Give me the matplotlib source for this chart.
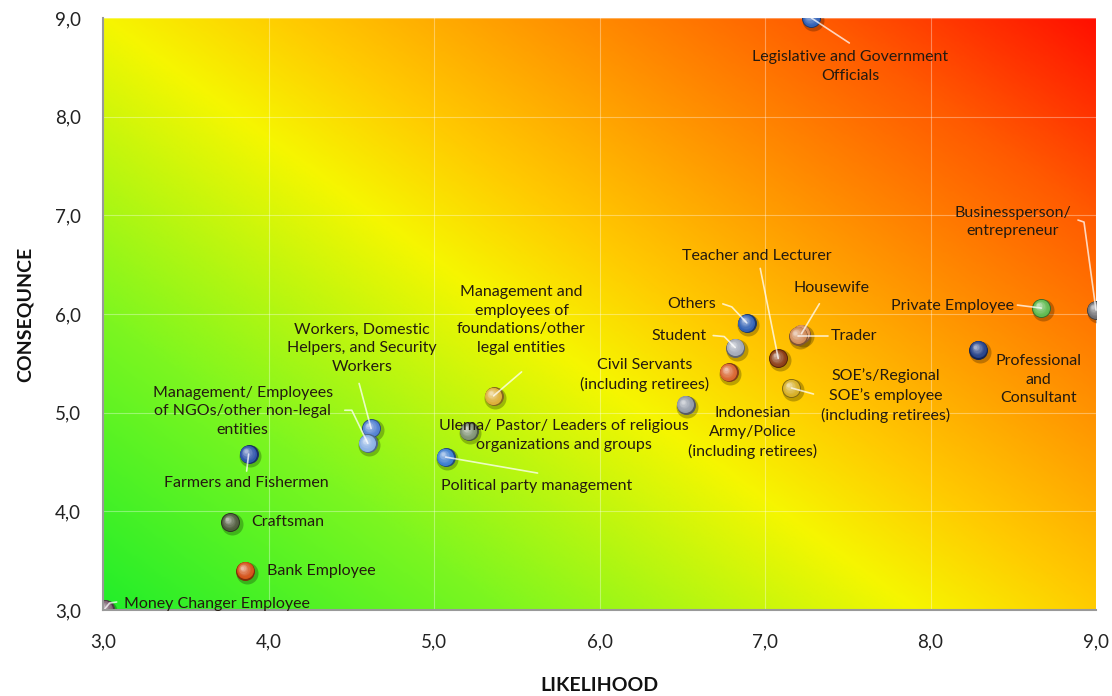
import numpy as np
import matplotlib
matplotlib.use("Agg")
import matplotlib.pyplot as plt
from matplotlib.colors import LinearSegmentedColormap, to_rgb
from matplotlib.transforms import offset_copy

plt.rcParams['font.family'] = ['Lato', 'DejaVu Sans']

# ---- data ----
labels = [
    "Legislative and Government\nOfficials",
    "Businessperson/\nentrepreneur",
    "Private Employee",
    "Professional\nand\nConsultant",
    "Others",
    "Student",
    "Housewife",
    "Trader",
    "Teacher and Lecturer",
    "Civil Servants\n(including retirees)",
    "SOE\u2019s/Regional\nSOE\u2019s employee\n(including retirees)",
    "Indonesian\nArmy/Police\n(including retirees)",
    "Management and\nemployees of\nfoundations/other\nlegal entities",
    "Ulema/ Pastor/ Leaders of religious\norganizations and groups",
    "Political party management",
    "Workers, Domestic\nHelpers, and Security\nWorkers",
    "Management/ Employees\nof NGOs/other non-legal\nentities",
    "Farmers and Fishermen",
    "Craftsman",
    "Bank Employee",
    "Money Changer Employee",
]
likelihood = [7.28, 9.00, 8.67, 8.29, 6.89, 6.82, 7.22, 7.20, 7.08, 6.78, 7.16,
              6.52, 5.36, 5.21, 5.07, 4.62, 4.60, 3.88, 3.77, 3.86, 3.01]
consequence = [9.00, 6.04, 6.06, 5.64, 5.91, 5.66, 5.80, 5.78, 5.55, 5.41, 5.25,
               5.08, 5.17, 4.81, 4.55, 4.84, 4.69, 4.58, 3.89, 3.40, 3.01]
x_ticks = [3.0, 4.0, 5.0, 6.0, 7.0, 8.0, 9.0]
y_ticks = [3.0, 4.0, 5.0, 6.0, 7.0, 8.0, 9.0]

# ---- styles ----
colors = ["#2f5fb5", "#6e6e72", "#5cb84c", "#1f3c85", "#2c5db3", "#a2a8b6",
          "#d8925e", "#d08a58", "#8a3a12", "#d8622a", "#d6ae22", "#9098a6",
          "#dcae34", "#7b8f6e", "#3a7cd0", "#4f7fd0", "#86aee4", "#2a50a8",
          "#4a5638", "#d24c12", "#7a6070"]

# label placement: (dx, dy) offset pixels, ha, va, leader path (pixel offsets from point) or None
label_pos = [
    (39, -32, 'center', 'top', [(0, 0), (38, -25)]),
    (-83, 88, 'center', 'center', [(0, 0), (-12, 88), (-18, 90)]),
    (-27, 2, 'right', 'center', [(0, 0), (-24, 3)]),
    (60, -30, 'center', 'center', None),
    (-55, 19, 'center', 'center', [(0, 0), (-15, 16), (-24, 19)]),
    (-56, 12, 'center', 'center', [(0, 0), (-11, 11), (-22, 12)]),
    (30, 46, 'center', 'center', [(0, 0), (18, 30)]),
    (33, 0, 'left', 'center', [(0, 0), (30, 0)]),
    (-21, 102, 'center', 'center', [(0, 0), (-18, 90)]),
    (-84, -3, 'center', 'center', None),
    (94, -8, 'center', 'center', [(0, 0), (22, -6)]),
    (67, -28, 'center', 'center', None),
    (28, 76, 'center', 'center', [(0, 0), (28, 24)]),
    (95, -4, 'center', 'center', None),
    (91, -29, 'center', 'center', [(0, 0), (92, -16)]),
    (-9, 80, 'center', 'center', [(0, 0), (-12, 45)]),
    (-125, 32, 'center', 'center', [(0, 0), (-16, 33), (-23, 33)]),
    (-2, -29, 'center', 'center', [(0, 0), (-2, -17)]),
    (21, 0, 'left', 'center', None),
    (22, 0, 'left', 'center', None),
    (19, 5, 'left', 'center', [(0, 0), (5, 6), (12, 7)]),
]

W, H, DPI = 1112, 696, 100
fig = plt.figure(figsize=(W / DPI, H / DPI), dpi=DPI)
ax = fig.add_axes([103 / W, 1 - 610 / H, (1096 - 103) / W, (610 - 18) / H])

# background gradient
cmap = LinearSegmentedColormap.from_list("risk", [
    (0.00, "#22ee2a"),
    (0.22, "#7cf620"),
    (0.45, "#f6f600"),
    (0.55, "#ffcc00"),
    (0.68, "#ff9a00"),
    (0.85, "#ff5a00"),
    (1.00, "#ff1000"),
])
u = np.linspace(0, 1, 400)
v = np.linspace(0, 1, 300)
U, V = np.meshgrid(u, v)
T = 0.55 * U + 0.45 * V
ax.imshow(T, cmap=cmap, origin='lower', extent=[3, 9, 3, 9], aspect='auto',
          zorder=0, interpolation='bilinear', vmin=0, vmax=1)

ax.set_xlim(3, 9)
ax.set_ylim(3, 9)
ax.set_xticks(x_ticks)
ax.set_yticks(y_ticks)
ax.set_xticklabels([f"{t:.1f}".replace('.', ',') for t in x_ticks])
ax.set_yticklabels([f"{t:.1f}".replace('.', ',') for t in y_ticks])
ax.tick_params(length=0, labelsize=13.5, colors="#222222")
ax.tick_params(axis='x', pad=17)
ax.tick_params(axis='y', pad=16)
ax.grid(True, color='white', alpha=0.35, lw=0.8, zorder=1)
for s in ['top', 'right']:
    ax.spines[s].set_visible(False)
for s in ['left', 'bottom']:
    ax.spines[s].set_color('#999999')
    ax.spines[s].set_linewidth(1.5)
    ax.spines[s].set_zorder(6)

ax.set_xlabel("LIKELIHOOD", fontsize=14, fontweight='bold', labelpad=19, color="#111111")
ax.set_ylabel("CONSEQUNCE", fontsize=14, fontweight='bold', labelpad=15, color="#111111")


def lighten(c, f):
    r, g, b = to_rgb(c)
    return (r + (1 - r) * f, g + (1 - g) * f, b + (1 - b) * f)


def darken(c, f):
    r, g, b = to_rgb(c)
    return (r * (1 - f), g * (1 - f), b * (1 - f))


def sphere(x, y, c, d=19):
    tr = offset_copy(ax.transData, fig=fig, x=1.5, y=-2.0, units='dots')
    ax.scatter([x], [y], s=((d + 3) * 0.72) ** 2, color=(0, 0, 0), alpha=0.25,
               transform=tr, zorder=3, lw=0)
    ax.scatter([x], [y], s=(d * 0.72) ** 2, color=darken(c, 0.4), zorder=4, lw=0)
    n = 8
    for i in range(1, n + 1):
        f = i / n
        dd = d * (1 - 0.82 * f)
        off = 3.0 * f
        tr = offset_copy(ax.transData, fig=fig, x=-off, y=off, units='dots')
        ax.scatter([x], [y], s=(dd * 0.72) ** 2, color=lighten(c, 0.6 * f ** 1.6),
                   transform=tr, zorder=4, lw=0)


for i, lab in enumerate(labels):
    x, y = likelihood[i], consequence[i]
    sphere(x, y, colors[i])
    dx, dy, ha, va, path = label_pos[i]
    ax.annotate(lab, (x, y), xytext=(dx, dy), textcoords='offset pixels',
                ha=ha, va=va, fontsize=11.5, color="#241a10", zorder=7,
                multialignment='center', linespacing=1.42, annotation_clip=False)
    if path is not None:
        xs = []
        ys = []
        disp = ax.transData.transform((x, y))
        inv = ax.transData.inverted()
        for (px, py) in path:
            p = inv.transform((disp[0] + px, disp[1] + py))
            xs.append(p[0])
            ys.append(p[1])
        ax.plot(xs, ys, color=(1, 1, 1, 0.75), lw=1.2, zorder=4.5, clip_on=False,
                solid_capstyle='round')

fig.savefig("out.png", dpi=DPI)
